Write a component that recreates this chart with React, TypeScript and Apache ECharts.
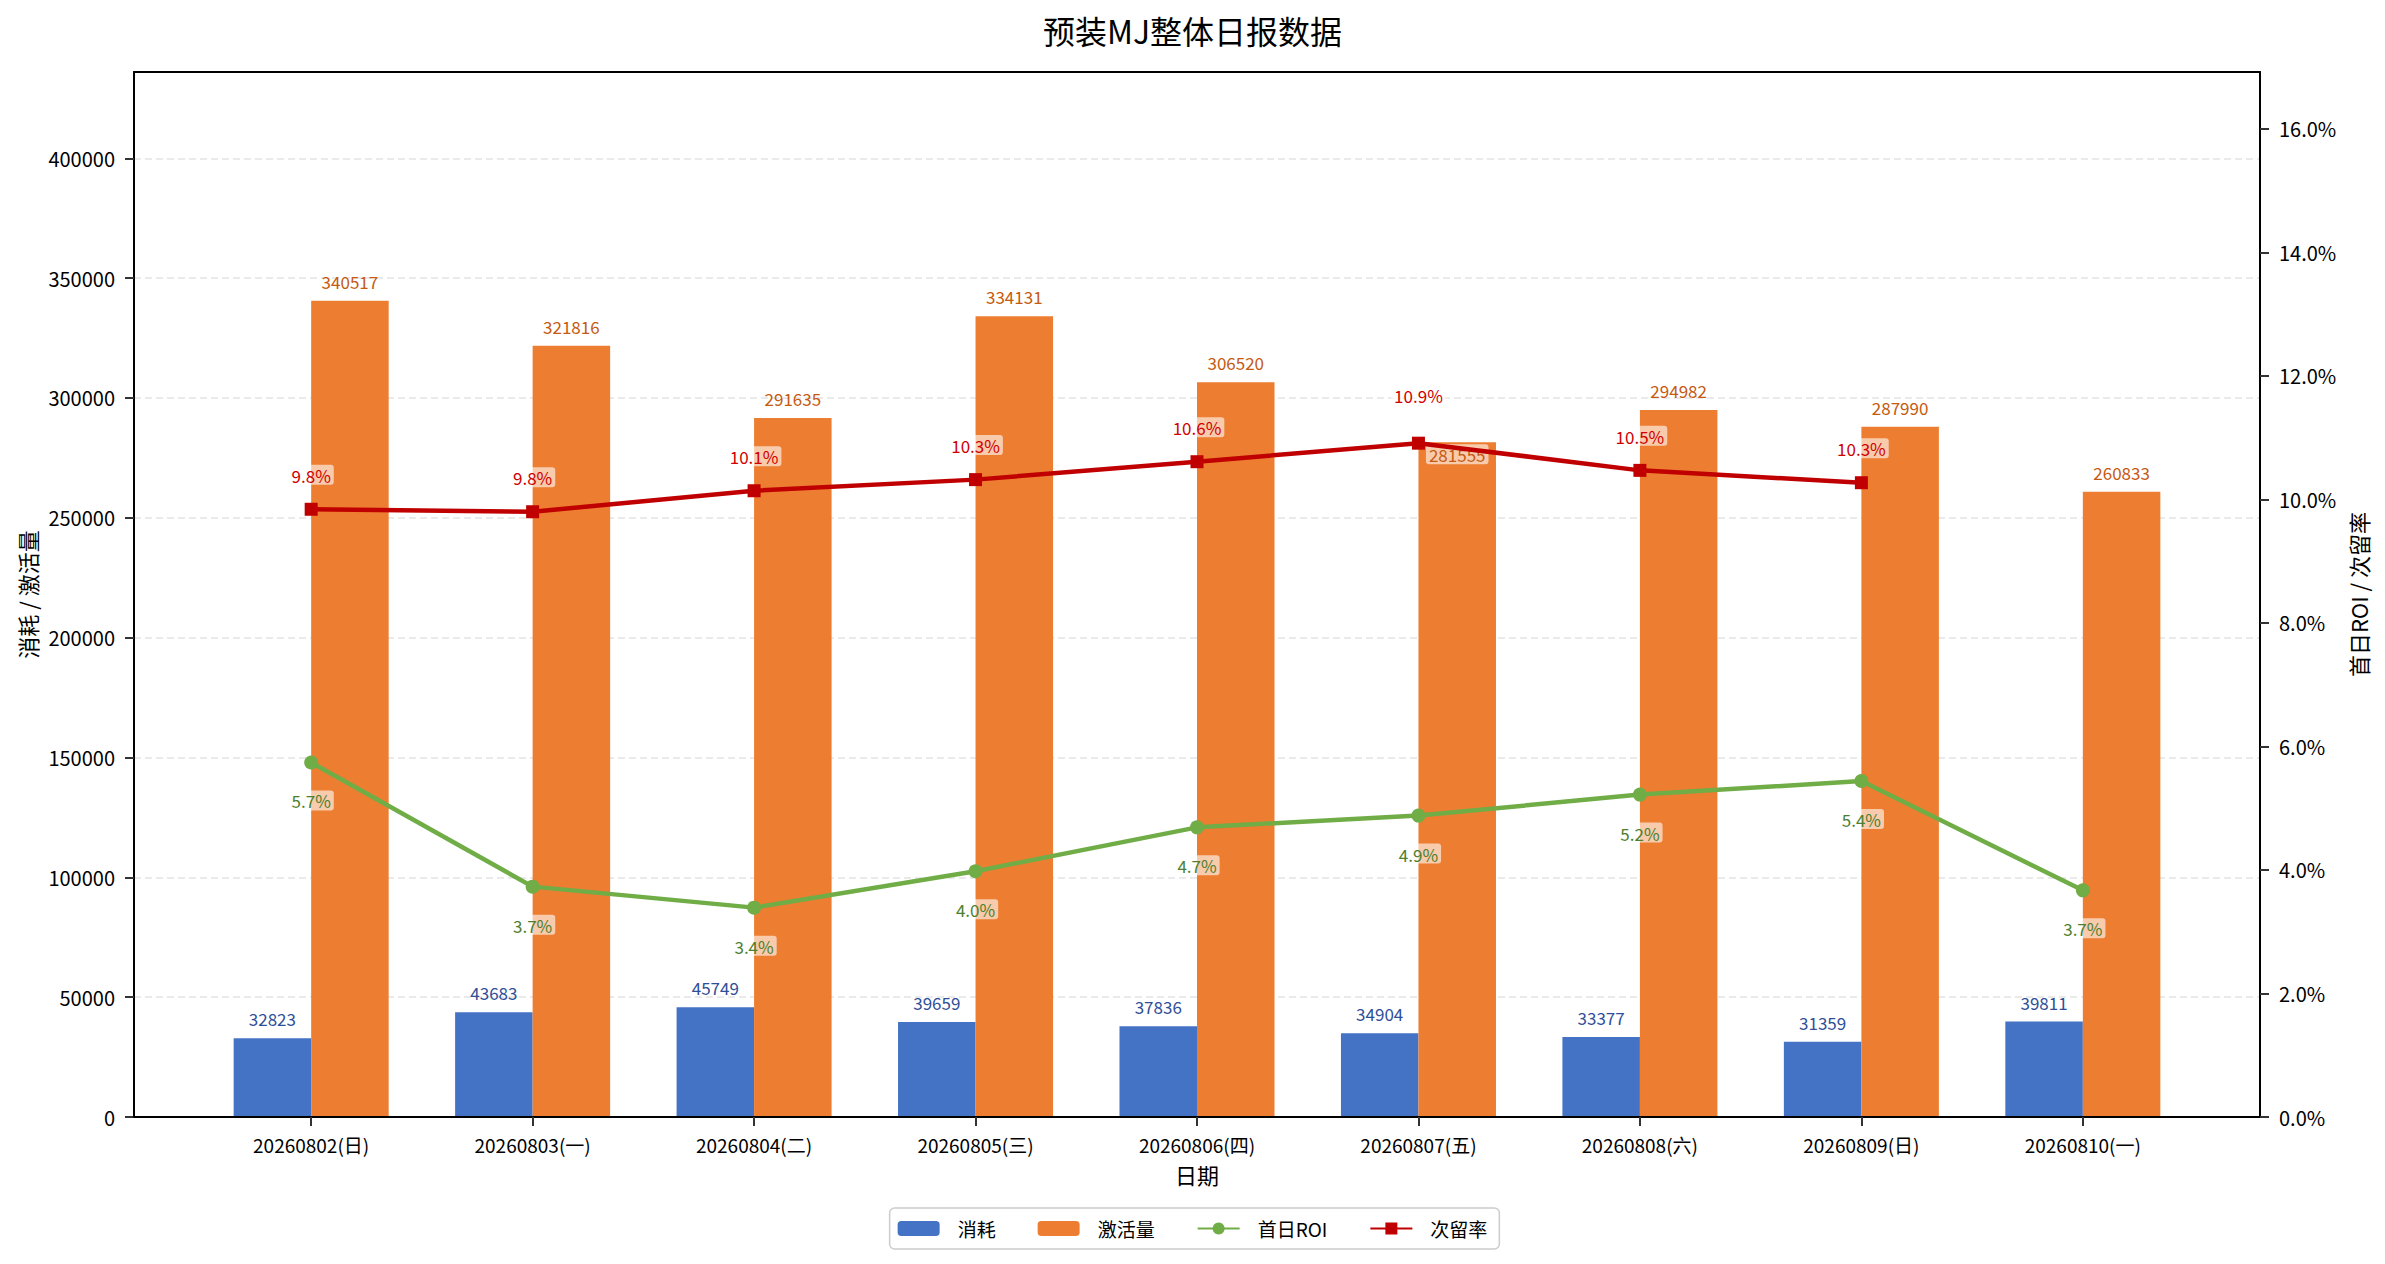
import React, { useEffect, useRef } from "react";
import * as echarts from "echarts";

const categories = [
  "20260802(日)",
  "20260803(一)",
  "20260804(二)",
  "20260805(三)",
  "20260806(四)",
  "20260807(五)",
  "20260808(六)",
  "20260809(日)",
  "20260810(一)",
];
const spend = [32823, 43683, 45749, 39659, 37836, 34904, 33377, 31359, 39811];
const activations = [340517, 321816, 291635, 334131, 306520, 281555, 294982, 287990, 260833];
const roiPct = [5.74, 3.73, 3.39, 3.98, 4.69, 4.88, 5.22, 5.44, 3.67];
const retentionPct: (number | null)[] = [9.84, 9.8, 10.14, 10.32, 10.61, 10.91, 10.47, 10.27, null];

const leftMax = 436000;
const rightMax = 16.92;

// label layout tweak where bar label and retention label collide
const crowdedIndex = 5;

const FONT = "Noto Sans CJK SC";
const pctFmt = (v: number) => v.toFixed(1) + "%";

export default function App() {
  const ref = useRef<HTMLDivElement>(null);

  useEffect(() => {
    if (!ref.current) return;
    const chart = echarts.init(ref.current, null, { renderer: "svg" });
    const idx = categories.map((_, i) => i);
    const labelBox = {
      backgroundColor: "rgba(255,255,255,0.6)",
      padding: [2, 3, 1, 3],
      borderRadius: 3,
    };
    const axisLineStyle = { show: true, onZero: false, lineStyle: { color: "#000", width: 2 } };

    const option: any = {
      animation: false,
      backgroundColor: "#ffffff",
      textStyle: { fontFamily: FONT },
      title: {
        text: "预装MJ整体日报数据",
        left: "center",
        top: 9,
        textStyle: { fontSize: 32, fontWeight: "normal", color: "#000", fontFamily: FONT },
      },
      grid: { left: 134, right: 125, top: 72, bottom: 147, containLabel: false },
      legend: {
        bottom: 15,
        left: "center",
        itemWidth: 42,
        itemHeight: 15,
        itemGap: 42,
        padding: [11, 12, 11, 8],
        borderColor: "#cccccc",
        borderWidth: 1.5,
        borderRadius: 5,
        textStyle: { fontSize: 19, color: "#000", fontFamily: FONT, padding: [0, 0, 0, 13] },
        data: ["消耗", "激活量", "首日ROI", "次留率"],
      },
      xAxis: [
        {
          type: "value",
          min: -0.8,
          max: categories.length - 0.2,
          name: "日期",
          nameLocation: "middle",
          nameGap: 46,
          nameTextStyle: { fontSize: 22, color: "#000", fontFamily: FONT },
          axisLine: axisLineStyle,
          axisTick: { show: true, customValues: idx, length: 9, lineStyle: { color: "#333", width: 2 } },
          axisLabel: {
            customValues: idx,
            formatter: (v: number) => categories[Math.round(v)] ?? "",
            fontSize: 19,
            color: "#000",
            margin: 18,
            fontFamily: FONT,
          },
          splitLine: { show: false },
          z: 5,
        },
        {
          type: "value",
          position: "top",
          min: -0.8,
          max: categories.length - 0.2,
          axisLine: axisLineStyle,
          axisTick: { show: false },
          axisLabel: { show: false },
          splitLine: { show: false },
          z: 10,
        },
      ],
      yAxis: [
        {
          type: "value",
          position: "left",
          min: 0,
          max: leftMax,
          interval: 50000,
          name: "消耗 / 激活量",
          nameLocation: "middle",
          nameGap: 96,
          nameTextStyle: { fontSize: 22, color: "#000", fontFamily: FONT },
          axisLine: axisLineStyle,
          axisTick: { show: true, length: 9, lineStyle: { color: "#333", width: 2 } },
          axisLabel: {
            fontSize: 20,
            color: "#000",
            margin: 19,
            showMaxLabel: false,
            formatter: (v: number) => String(v),
            fontFamily: FONT,
          },
          splitLine: { show: true, lineStyle: { color: "#e3e3e3", width: 1.5, type: [7, 4] } },
          z: 0,
        },
        {
          type: "value",
          position: "right",
          min: 0,
          max: rightMax,
          interval: 2,
          name: "首日ROI / 次留率",
          nameLocation: "middle",
          nameGap: 83,
          nameTextStyle: { fontSize: 22, color: "#000", fontFamily: FONT },
          axisLine: axisLineStyle,
          axisTick: { show: true, length: 9, lineStyle: { color: "#333", width: 2 } },
          axisLabel: {
            fontSize: 20,
            color: "#000",
            margin: 19,
            showMaxLabel: false,
            formatter: (v: number) => pctFmt(v),
            fontFamily: FONT,
          },
          splitLine: { show: false },
          z: 5,
        },
      ],
      series: [
        {
          name: "消耗",
          type: "bar",
          xAxisIndex: 0,
          yAxisIndex: 0,
          barWidth: "35%",
          barGap: "0%",
          itemStyle: { color: "#4472C4" },
          label: { show: true, position: "top", distance: 11, fontSize: 17, color: "#2F4F98", fontFamily: FONT },
          data: spend.map((v, i) => [i, v]),
          z: 2,
        },
        {
          name: "激活量",
          type: "bar",
          xAxisIndex: 0,
          yAxisIndex: 0,
          barWidth: "35%",
          barGap: "0%",
          itemStyle: { color: "#ED7D31" },
          label: { show: true, position: "top", distance: 11, fontSize: 17, color: "#C55A11", fontFamily: FONT },
          data: activations.map((v, i) =>
            i === crowdedIndex
              ? {
                  value: [i, v],
                  label: { position: "insideTop", distance: 2, ...labelBox },
                }
              : [i, v]
          ),
          z: 2,
        },
        {
          name: "首日ROI",
          type: "line",
          xAxisIndex: 0,
          yAxisIndex: 1,
          symbol: "circle",
          symbolSize: 14,
          lineStyle: { color: "#70AD47", width: 4.5 },
          itemStyle: { color: "#70AD47" },
          label: {
            show: true,
            position: "bottom",
            distance: 21,
            fontSize: 17,
            color: "#4E7F2E",
            fontFamily: FONT,
            formatter: (p: any) => pctFmt(p.value[1]),
            ...labelBox,
          },
          data: roiPct.map((v, i) => [i, v]),
          z: 4,
        },
        {
          name: "次留率",
          type: "line",
          xAxisIndex: 0,
          yAxisIndex: 1,
          symbol: "rect",
          symbolSize: 13,
          lineStyle: { color: "#C00000", width: 4.5 },
          itemStyle: { color: "#C00000" },
          label: {
            show: true,
            position: "top",
            distance: 18,
            fontSize: 17,
            color: "#D00000",
            fontFamily: FONT,
            formatter: (p: any) => pctFmt(p.value[1]),
            ...labelBox,
          },
          data: retentionPct.flatMap((v, i) =>
            v == null
              ? []
              : i === crowdedIndex
              ? [{ value: [i, v], label: { distance: 32 } }]
              : [[i, v]]
          ),
          z: 5,
        },
      ],
    };

    chart.setOption(option);
    return () => chart.dispose();
  }, []);

  return (
    <div
      ref={ref}
      style={{ position: "fixed", left: 0, top: 0, width: 2385, height: 1264, background: "#fff" }}
    />
  );
}
